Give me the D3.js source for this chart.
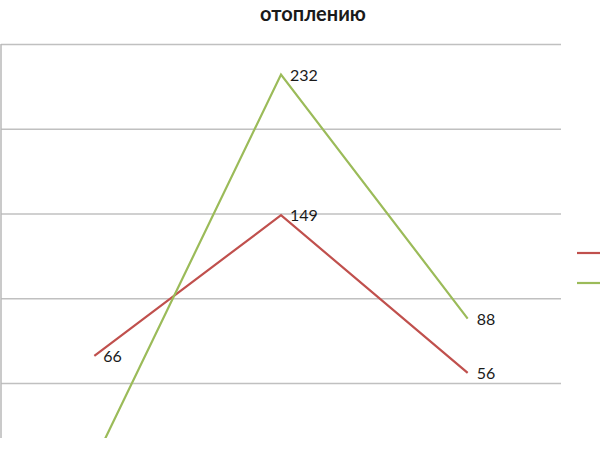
<!DOCTYPE html>
<html>
<head>
<meta charset="utf-8">
<script src="https://cdn.jsdelivr.net/npm/d3@7"></script>
<style>
  body { margin: 0; background: #fff; }
  svg { display: block; font-family: Lato, "Liberation Sans", sans-serif; }
</style>
</head>
<body>
<div id="chart"></div>
<script>
// chart data
let categories = ["1", "2", "3"];
let red_values = [66, 149, 56];
let green_values = [4, 232, 88];
let grid_ticks = [50, 100, 150, 200, 250];
let title_text = "отоплению";

let width = 600, height = 450;
let plot_left = 1, plot_right = 561, plot_top = 44, plot_bottom = 467.75;
let crop_bottom = 438; // the reference picture is cut off here

let svg = d3.select("#chart")
    .append("svg")
    .attr("width", width)
    .attr("height", height);

svg.append("clipPath")
    .attr("id", "crop")
    .append("rect")
    .attr("x", 0).attr("y", 0)
    .attr("width", width).attr("height", crop_bottom);

let g = svg.append("g").attr("clip-path", "url(#crop)");

let x = d3.scaleBand()
    .domain(categories)
    .range([plot_left, plot_right])
    .padding(0);

let y = d3.scaleLinear()
    .domain([0, 250])
    .range([plot_bottom, plot_top]);

// gridlines
let grid = g.append("g")
    .attr("transform", `translate(${plot_left},0)`)
    .call(d3.axisLeft(y).tickValues(grid_ticks).tickSize(-(plot_right - plot_left)).tickFormat(""));
grid.select(".domain").remove();
grid.selectAll(".tick line").attr("stroke", "#c0c0c0").attr("stroke-width", 1.3);

// left axis line
g.append("line")
    .attr("x1", plot_left).attr("x2", plot_left)
    .attr("y1", y(250)).attr("y2", y(0))
    .attr("stroke", "#b8b8b8")
    .attr("stroke-width", 1.5);

// title (second line, the rest is cut off above)
svg.append("text")
    .attr("x", 313)
    .attr("y", 20.5)
    .attr("text-anchor", "middle")
    .style("font-size", "20px")
    .style("font-weight", "bold")
    .style("fill", "#1a1a1a")
    .text(title_text);

let series = [
    {values: red_values, color: "#c0504d"},
    {values: green_values, color: "#9bbb59"}
];

let line = d3.line()
    .x((d, i) => x(categories[i]) + x.bandwidth() / 2)
    .y(d => y(d));

series.forEach(function(s) {
    g.append("path")
        .datum(s.values)
        .attr("d", line)
        .attr("fill", "none")
        .attr("stroke", s.color)
        .attr("stroke-width", 2.2)
        .attr("stroke-linejoin", "miter");

    // labels below the crop line are hidden like in the reference
    g.selectAll(null)
        .data(s.values.filter(d => y(d) < crop_bottom - 10))
        .enter()
        .append("text")
        .attr("x", d => x(categories[s.values.indexOf(d)]) + x.bandwidth() / 2 + 9)
        .attr("y", d => y(d) + 2)
        .attr("dominant-baseline", "middle")
        .style("font-size", "16px")
        .style("fill", "#1a1a1a")
        .text(d => d);
});

// legend markers (text falls outside the crop)
series.forEach(function(s, i) {
    svg.append("line")
        .attr("x1", 577).attr("x2", 606)
        .attr("y1", 253 + i * 30).attr("y2", 253 + i * 30)
        .attr("stroke", s.color)
        .attr("stroke-width", 2.2);
});
</script>
</body>
</html>
